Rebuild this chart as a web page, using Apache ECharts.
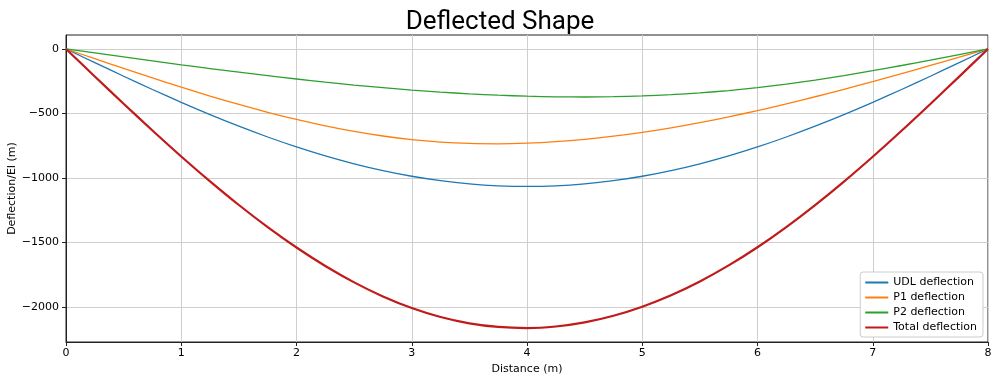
<!DOCTYPE html>
<html>
<head>
<meta charset="utf-8">
<script src="https://cdn.jsdelivr.net/npm/echarts@6/dist/echarts.min.js"></script>
<style>html,body{margin:0;padding:0;background:#fff}#c{width:1000px;height:383px}</style>
</head>
<body>
<div id="c"></div>
<script>
const distance = [0, 0.25, 0.5, 0.75, 1, 1.25, 1.5, 1.75, 2, 2.25, 2.5, 2.75, 3, 3.25, 3.5, 3.75, 4,
  4.25, 4.5, 4.75, 5, 5.25, 5.5, 5.75, 6, 6.25, 6.5, 6.75, 7, 7.25, 7.5, 7.75, 8];
const udl = [0, -106.5, -211.7, -314.6, -414.2, -509.3, -599.2, -683.0, -760, -829.5, -890.9, -943.7, -987.5, -1021.9, -1046.7, -1061.7, -1066.7,
  -1061.7, -1046.7, -1021.9, -987.5, -943.7, -890.9, -829.5, -760, -683.0, -599.2, -509.3, -414.2, -314.6, -211.7, -106.5, 0];
const p1 = [0, -76.1, -151.4, -225.2, -296.9, -365.6, -430.7, -491.3, -546.9, -596.6, -639.6, -675.4, -703.1, -722.2, -733.0, -735.9, -731.3,
  -719.6, -701.4, -677.0, -646.9, -611.5, -571.3, -526.7, -478.1, -426.1, -370.9, -313.1, -253.1, -191.4, -128.3, -64.4, 0];
const p2 = [0, -31.2, -62.2, -92.9, -122.9, -152.2, -180.5, -207.6, -233.3, -257.5, -280.0, -300.4, -318.8, -334.7, -348.2, -358.9, -366.7,
  -371.3, -372.7, -370.5, -364.6, -354.8, -340.9, -322.7, -300, -272.8, -241.4, -206.5, -168.8, -128.6, -86.7, -43.7, 0];
const total = [0, -213.7, -425.3, -632.7, -834.0, -1027.1, -1210.4, -1381.9, -1540.2, -1683.6, -1810.5, -1919.5, -2009.4, -2078.9, -2127.9, -2156.4, -2164.7,
  -2152.6, -2120.8, -2069.4, -1999.0, -1910.0, -1803.1, -1678.9, -1538.1, -1381.8, -1211.5, -1029.0, -836.1, -634.6, -426.7, -214.5, 0];
const yTicks = [-2000, -1500, -1000, -500, 0];
const seriesNames = ['UDL deflection', 'P1 deflection', 'P2 deflection', 'Total deflection'];

const pair = arr => distance.map((x, i) => [x, arr[i]]);
const font = 'DejaVu Sans';
const chart = echarts.init(document.getElementById('c'), null, {renderer: 'canvas'});
const mk = (name, data, color, width) => ({
  name, type: 'line', data: pair(data), smooth: 0.3, symbol: 'none',
  lineStyle: {color, width}, itemStyle: {color}, z: 3
});
chart.setOption({
  animation: false,
  backgroundColor: '#fff',
  title: {
    text: 'Deflected Shape', left: 'center', top: 4,
    textStyle: {fontFamily: 'Roboto', fontSize: 26, fontWeight: 'normal', color: '#000'}
  },
  grid: {left: 66, right: 12, top: 35, bottom: 41, outerBoundsMode: 'none', containLabel: false,
    show: true, borderColor: '#222', borderWidth: 1, backgroundColor: 'transparent'},
  legend: {
    orient: 'vertical', right: 17, bottom: 46,
    data: seriesNames,
    icon: 'rect', itemWidth: 23, itemHeight: 2, itemGap: 4,
    padding: [5, 6, 4, 5],
    backgroundColor: '#fff', borderColor: '#ccc', borderWidth: 1, borderRadius: 3,
    textStyle: {fontFamily: font, fontSize: 11, color: '#000'}
  },
  xAxis: {
    type: 'value', min: 0, max: 8, interval: 1,
    name: 'Distance (m)', nameLocation: 'middle', nameGap: 22, nameMoveOverlap: false,
    nameTextStyle: {fontFamily: font, fontSize: 11, color: '#000'},
    axisLine: {show: true, onZero: false, lineStyle: {color: '#222', width: 1}},
    axisTick: {show: true, length: 4, lineStyle: {color: '#222'}},
    axisLabel: {fontFamily: font, fontSize: 11, color: '#000', margin: 6},
    splitLine: {show: true, lineStyle: {color: '#cfcfcf', width: 1}}
  },
  yAxis: {
    type: 'value', min: -2273, max: 108,
    name: 'Deflection/EI (m)', nameLocation: 'middle', nameGap: 48, nameRotate: 90, nameMoveOverlap: false,
    nameTextStyle: {fontFamily: font, fontSize: 11, color: '#000'},
    axisLine: {show: true, onZero: false, lineStyle: {color: '#222', width: 1}},
    axisTick: {show: true, length: 4, lineStyle: {color: '#222'}, customValues: yTicks},
    axisLabel: {fontFamily: font, fontSize: 11, color: '#000', margin: 7, customValues: yTicks,
      formatter: v => String(v).replace('-', '\u2212')},
    splitLine: {show: true, lineStyle: {color: '#cfcfcf', width: 1}}
  },
  series: [
    mk(seriesNames[0], udl, '#1f77b4', 1.3),
    mk(seriesNames[1], p1, '#ff7f0e', 1.3),
    mk(seriesNames[2], p2, '#2ca02c', 1.3),
    mk(seriesNames[3], total, '#c01a1a', 2.2)
  ]
});
</script>
</body>
</html>
